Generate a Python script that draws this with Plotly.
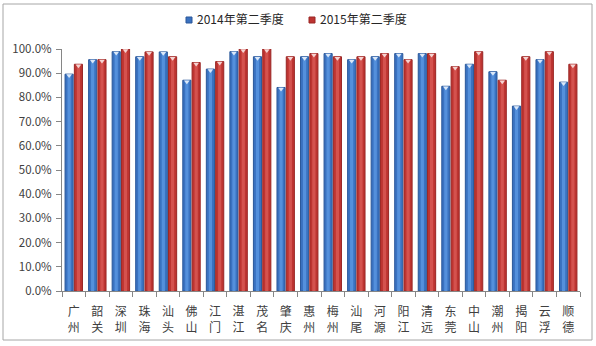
import plotly.graph_objects as go

# 各地市两个季度的比率
cities = ["广州", "韶关", "深圳", "珠海", "汕头", "佛山", "江门", "湛江", "茂名", "肇庆", "惠州",
          "梅州", "汕尾", "河源", "阳江", "清远", "东莞", "中山", "潮州", "揭阳", "云浮", "顺德"]
q2_2014 = [0.896, 0.956, 0.989, 0.968, 0.988, 0.871, 0.917, 0.989, 0.968, 0.841, 0.968,
           0.981, 0.956, 0.968, 0.981, 0.981, 0.846, 0.937, 0.906, 0.764, 0.956, 0.863]
q2_2015 = [0.937, 0.956, 1.000, 0.988, 0.968, 0.944, 0.948, 1.000, 1.000, 0.968, 0.981,
           0.968, 0.968, 0.981, 0.956, 0.981, 0.927, 0.989, 0.871, 0.968, 0.989, 0.937]
series_names = ["2014年第二季度", "2015年第二季度"]
y_ticks = [i / 10 for i in range(11)]
y_tick_text = [f"{v * 100:.1f}%" for v in y_ticks]

# (name, values, edge colour, body colour, highlight colour, bevel colour, bar offset)
styles = [
    (series_names[0], q2_2014, "#2a5799", "#3a72c0", "#5490dc", "#dbe8f8", -0.37),
    (series_names[1], q2_2015, "#992624", "#bd3431", "#d4524e", "#f5d4d2", 0.025),
]
BAR_W = 0.345
N = len(cities)

# plot-area geometry in pixels (used to place border and legend in paper units)
L, R, T, B = 62, 16, 49, 55
PW, PH = 596 - L - R, 346 - T - B


def px_x(px):
    return (px - L) / PW


def px_y(py):
    return (346 - B - py) / PH


fig = go.Figure()
for name, vals, edge, body, hi, bevel, off in styles:
    # outer bar with darker edges
    fig.add_trace(go.Bar(
        x=cities, y=vals, name=name, offset=off, width=BAR_W,
        marker=dict(color=body, line=dict(color=edge, width=1)),
        showlegend=False, hoverinfo="skip",
    ))
    # lighter centre strip for a rounded look
    fig.add_trace(go.Bar(
        x=cities, y=vals, offset=off + BAR_W * 0.3, width=BAR_W * 0.4,
        marker=dict(color=hi, line=dict(width=0)),
        showlegend=False, hoverinfo="skip",
    ))
    # small bevel highlight at the top of each bar, at the bar centre
    fig.add_trace(go.Scatter(
        x=[k + off + BAR_W / 2 for k in range(N)], y=[v - 0.006 for v in vals],
        xaxis="x2", mode="markers",
        marker=dict(symbol="triangle-down", size=5, color=bevel, line=dict(width=0)),
        showlegend=False, hoverinfo="skip",
    ))

# second row of each two-character city label, on an overlaid category axis
fig.add_trace(go.Scatter(x=cities, y=[None] * N, xaxis="x3", showlegend=False,
                         hoverinfo="skip"))

# legend: small squares with text
legend_items = [(series_names[0], styles[0][3], styles[0][2], 186),
                (series_names[1], styles[1][3], styles[1][2], 309)]
shapes = [dict(type="rect", xref="paper", yref="paper",
               x0=px_x(3), x1=px_x(592), y0=px_y(340), y1=px_y(4),
               line=dict(color="#a6a6a6", width=1), fillcolor="rgba(0,0,0,0)",
               layer="below")]
annotations = []
for text, fill, edge, sx in legend_items:
    shapes.append(dict(type="rect", xref="paper", yref="paper",
                       x0=px_x(sx), x1=px_x(sx + 6), y0=px_y(23), y1=px_y(17),
                       fillcolor=fill, line=dict(color=edge, width=1)))
    annotations.append(dict(text=text, xref="paper", yref="paper",
                            x=px_x(sx + 9), y=px_y(18), xanchor="left", yanchor="middle",
                            showarrow=False, font=dict(size=12, color="#262626")))

fig.update_layout(
    width=596, height=346,
    margin=dict(l=L, r=R, t=T, b=B),
    paper_bgcolor="white", plot_bgcolor="white",
    barmode="overlay", showlegend=False,
    font=dict(family="Noto Sans CJK SC, Noto Sans, sans-serif", size=11, color="#404040"),
    xaxis=dict(
        type="category", categoryorder="array", categoryarray=cities,
        tickvals=cities, ticktext=[c[0] for c in cities],
        tickson="boundaries", ticks="outside", ticklen=5, tickcolor="#868686",
        showline=True, linecolor="#868686", linewidth=1, showgrid=False,
        range=[-0.5, N - 0.5], tickfont=dict(size=12), ticklabelstandoff=10,
    ),
    xaxis2=dict(overlaying="x", range=[-0.5, N - 0.5], visible=False),
    xaxis3=dict(
        overlaying="x", type="category", categoryorder="array", categoryarray=cities,
        tickvals=cities, ticktext=[c[1] for c in cities], range=[-0.5, N - 0.5],
        side="bottom", ticks="", showline=False, showgrid=False, zeroline=False,
        ticklabelstandoff=28, tickfont=dict(size=12),
    ),
    yaxis=dict(
        range=[0, 1.0], tickvals=y_ticks, ticktext=y_tick_text,
        ticks="outside", ticklen=5, tickcolor="#868686",
        showline=True, linecolor="#868686", linewidth=1, showgrid=False,
        zeroline=False, tickfont=dict(size=11.5), ticklabelstandoff=2,
    ),
    shapes=shapes,
    annotations=annotations,
)

fig.write_html("out.html")
